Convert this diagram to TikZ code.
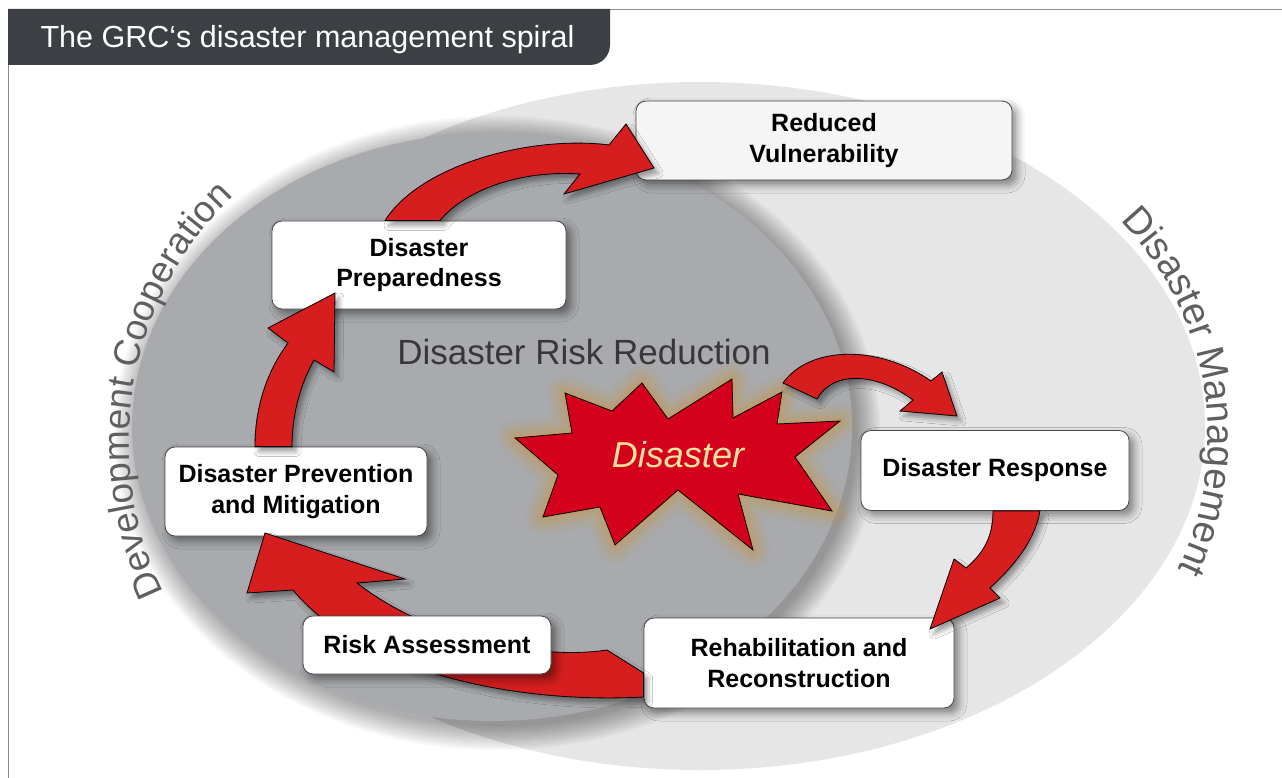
\documentclass[tikz,border=0pt]{standalone}
\usepackage{fontspec}
\setmainfont{Liberation Sans}
\usetikzlibrary{calc,shadows.blur,decorations.text}

\definecolor{tabgray}{RGB}{60,63,67}
\definecolor{drrgray}{RGB}{168,170,173}
\definecolor{dmgray}{RGB}{230,230,230}
\definecolor{arrowred}{RGB}{214,30,30}
\definecolor{starred}{RGB}{212,0,28}
\definecolor{starglow}{RGB}{205,150,60}
\definecolor{startext}{RGB}{252,226,160}
\definecolor{labelgray}{RGB}{95,95,95}

\newcommand{\starpath}{(515,438) -- (572,433) -- (565,393) -- (612,411) -- (642,383) -- (668,419) -- (732,379) -- (733,418) -- (782,392) -- (777,424) -- (840,421) -- (795,457) -- (832,511) -- (738,494) -- (753,550) -- (678,490) -- (615,545) -- (600,507) -- (543,517) -- (558,475) -- cycle}

\begin{document}
\begin{tikzpicture}[x=1pt, y=-1pt,
		stage/.style={draw=black!72, line width=0.8pt, fill=white, rounded corners=10pt, inner sep=0pt, align=center,
			font=\fontsize{25}{30.5}\selectfont\bfseries,
			blur shadow={shadow xshift=5pt, shadow yshift=-5pt, shadow blur radius=8pt, shadow opacity=45}},
		bigarrow/.style={draw=black, line width=0.8pt, fill=arrowred,
			blur shadow={shadow xshift=4pt, shadow yshift=-5pt, shadow blur radius=5pt, shadow opacity=40}}]
			\useasboundingbox (0,0) rectangle (1282,778);

			% frame and title tab
			\draw[black!45, line width=1pt] (8,778) -- (8,9.5) -- (1282,9.5);
			\fill[tabgray] (8,9) -- (610,9) -- (610,45) arc[start angle=0, end angle=90, radius=20] -- (8,65) -- cycle;
			\node[anchor=base west, text=white, font=\fontsize{30.5}{34}\selectfont] (title) at (37,48) {The GRC‘s disaster management spiral};

			% the two fields
			\fill[dmgray] (700,426) ellipse [x radius=505, y radius=344];
			\foreach \r in {1,...,14}
				\fill[black, opacity=0.028] (497,433) ellipse [x radius=358+1.8*\r, y radius=292+1.8*\r];
			\fill[drrgray] (492,427) ellipse [x radius=360, y radius=294];

			\path[decorate, decoration={text along path, text align=center,
				text={|\color{labelgray}\fontsize{37}{40}\selectfont|Development Cooperation}}]
				(470,442) ++(150:341) arc[start angle=150, end angle=230, radius=341];
			\path[decorate, decoration={text along path, text align=center,
				text={|\color{labelgray}\fontsize{38.5}{42}\selectfont|Disaster Management}}]
				(898,437) ++(-50:310) arc[start angle=-50, end angle=31, radius=310];

			\node[text=black!78, font=\fontsize{35}{40}\selectfont] (drr) at (584,352) {Disaster Risk Reduction};

			% the disaster star
			\foreach \w/\o in {36/0.07, 28/0.09, 20/0.12, 12/0.16, 6/0.2}
				\draw[starglow, line width=\w pt, opacity=\o, line join=round] \starpath;
			\filldraw[fill=starred, draw=black, line width=0.8pt] \starpath;
			\node[text=startext, font=\fontsize{36}{40}\selectfont\itshape] (dis) at (678,455) {Disaster};

			% stages
			\node[stage, minimum width=376, minimum height=79, fill=black!4] (redvul) at (824,140.5) {Reduced\\Vulnerability};
			\node[stage, minimum width=294, minimum height=88] (prep) at (419,265) {Disaster\\Preparedness};
			\node[stage, minimum width=262, minimum height=89] (prev) at (296,491.5) {Disaster Prevention\\and Mitigation};
			\node[stage, minimum width=310, minimum height=90] (rehab) at (799,663) {Rehabilitation and\\Reconstruction};
			\node[stage, minimum width=268, minimum height=80] (resp) at (995,470.5) {Disaster Response};

			% spiral arrows
			\filldraw[bigarrow] ([shift={(-34,0)}]prep.north) .. controls (420,165) and (530,135) .. (609,145)
				-- (626,124) -- (654,168) -- (564,194) -- (580,174)
				.. controls (520,170) and (465,190) .. ([shift={(21,0)}]prep.north) -- cycle;
			\filldraw[bigarrow] ([shift={(105,-72)}]dis.center) .. controls (810,345) and (880,345) .. (931,381)
				-- (942,372) -- (957,416) -- (900,411) -- (913,400)
				.. controls (880,375) and (835,368) .. ([shift={(139,-56)}]dis.center) -- cycle;
			\filldraw[bigarrow] ([shift={(-2,0)}]resp.south) .. controls (993,535) and (985,552) .. (966,568)
				-- (954,559) -- (930,629) -- (1000,598) -- (990,588)
				.. controls (1015,565) and (1035,540) .. ([shift={(45,0)}]resp.south) -- cycle;
			\filldraw[bigarrow] ([shift={(0,10)}]rehab.west) -- (607,650) .. controls (540,660) and (430,640) .. (357,583)
				-- (405,579) -- (265,533) -- (247,593) -- (293,590)
				.. controls (350,660) and (490,705) .. ([shift={(0,34)}]rehab.west) -- cycle;
			\filldraw[bigarrow] ([shift={(-41,0)}]prev.north) .. controls (255,405) and (268,370) .. (288,343)
				-- (268,328) -- (335,293) -- (334,372) -- (314,360)
				.. controls (300,385) and (292,415) .. ([shift={(-4,0)}]prev.north) -- cycle;

			\node[stage, minimum width=248, minimum height=58] (risk) at (427,645) {Risk Assessment};
		\end{tikzpicture}
\end{document}
